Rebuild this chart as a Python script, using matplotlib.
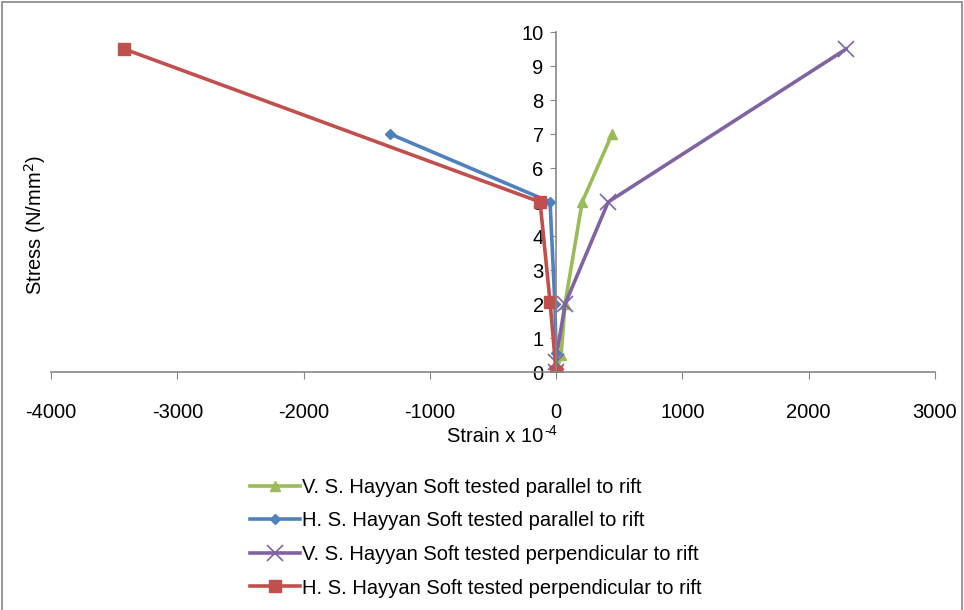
import matplotlib.pyplot as plt
from matplotlib.patches import Rectangle

plt.rcParams['font.family'] = ['Liberation Sans', 'DejaVu Sans']
plt.rcParams['axes.unicode_minus'] = False

# data (strain x 10^-4, stress N/mm^2)
vs_par_x = [0, 40, 70, 206, 443]
vs_par_y = [0, 0.5, 2, 5, 7]
hs_par_x = [0, 0, -10, -48, -1314]
hs_par_y = [0, 0.55, 2, 5, 7]
vs_perp_x = [0, -5, 71, 412, 2296]
vs_perp_y = [0, 0.3, 2, 5, 9.5]
hs_perp_x = [0, -48, -127, -3420]
hs_perp_y = [0, 2.05, 5, 9.5]

labels = ["V. S. Hayyan Soft tested parallel to rift",
          "H. S. Hayyan Soft tested parallel to rift",
          "V. S. Hayyan Soft tested perpendicular to rift",
          "H. S. Hayyan Soft tested perpendicular to rift"]

fs = 14.5

fig = plt.figure(figsize=(9.64, 6.10), dpi=100)
ax = fig.add_axes([51/964, 1-372/610, (935-51)/964, (372-32)/610])

ax.plot(vs_par_x, vs_par_y, color='#9BBB59', lw=2.6, marker='^', ms=7, label=labels[0])
ax.plot(hs_par_x, hs_par_y, color='#4F81BD', lw=2.6, marker='D', ms=5, label=labels[1])
ax.plot(vs_perp_x, vs_perp_y, color='#8064A2', lw=2.6, marker='x', ms=11, mew=1.2, label=labels[2])
ax.plot(hs_perp_x, hs_perp_y, color='#C0504D', lw=2.6, marker='s', ms=8, label=labels[3])

ax.set_xlim(-4000, 3000)
ax.set_ylim(0, 10)
ax.set_xticks(range(-4000, 3001, 1000))
ax.set_yticks(range(0, 11))

for s in ['top', 'right']:
    ax.spines[s].set_visible(False)
ax.spines['left'].set_position(('data', 0))
ax.spines['bottom'].set_position(('data', 0))
for s in ['left', 'bottom']:
    ax.spines[s].set_color('#868686')
    ax.spines[s].set_linewidth(1.2)
ax.tick_params(axis='x', direction='out', length=5, color='#868686', pad=17, labelsize=fs)
ax.tick_params(axis='y', direction='out', length=4, color='#868686', pad=5, labelsize=fs)

# x label with a plain hyphen in the exponent, as in the original
xl = fig.text(447/964, 1-436/610, "Strain x 10", ha='left', va='center', fontsize=fs)
ax.annotate("-4", xy=(1, 1), xycoords=xl, xytext=(0.5, -3), textcoords='offset points',
            ha='left', va='center', fontsize=fs*0.7, annotation_clip=False)
fig.text(35/964, 1-225/610, r"Stress (N/mm$^{2}$)", ha='center', va='center',
         rotation=90, fontsize=fs)

fig.legend(loc='upper left', bbox_to_anchor=(250/964, 1-478/610), frameon=False,
           fontsize=fs, handlelength=2.5, handletextpad=0.1, labelspacing=0.72,
           borderaxespad=0, borderpad=0)

fig.patches.append(Rectangle((0.002, -0.1), 0.996, 1.097, transform=fig.transFigure,
                             fill=False, edgecolor='#868686', lw=1.2))

fig.savefig('out.png', dpi=100)
